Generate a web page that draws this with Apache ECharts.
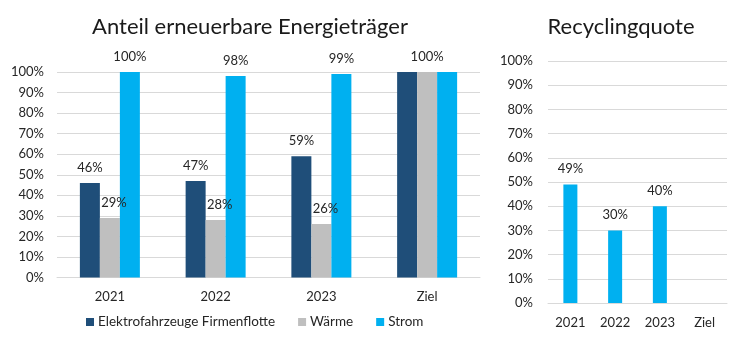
<!DOCTYPE html>
<html>
<head>
<meta charset="utf-8">
<script src="https://cdn.jsdelivr.net/npm/echarts@6/dist/echarts.min.js"></script>
<style>
  html, body { margin: 0; padding: 0; background: #ffffff; }
  #chart { width: 736px; height: 341px; }
</style>
</head>
<body>
<div id="chart"></div>
<script>
// Anteil erneuerbare Energieträger (links)
const energyCategories = ['2021', '2022', '2023', 'Ziel'];
const elektroValues = [46, 47, 59, 100];
const waermeValues = [29, 28, 26, 100];
const stromValues = [100, 98, 99, 100];
// Nur diese Balken tragen eine Wertbeschriftung
const elektroLabelShown = [true, true, true, false];
const waermeLabelShown = [true, true, true, true];
const stromLabelShown = [true, true, true, false];

// Recyclingquote (rechts)
const recyclingCategories = ['2021', '2022', '2023', 'Ziel'];
const recyclingValues = [49, 30, 40, null];

const seriesNames = ['Elektrofahrzeuge Firmenflotte', 'Wärme', 'Strom'];
const percentTicks = [0, 10, 20, 30, 40, 50, 60, 70, 80, 90, 100];

const FONT = 'Lato';
const TEXT = '#262626';
const COLORS = { elektro: '#1F4E79', waerme: '#BFBFBF', strom: '#00B0F0' };

function labelledData(values, shown, dx) {
  return values.map((v, i) => ({
    value: v,
    label: { show: shown[i], offset: [dx, 0] }
  }));
}

const barLabel = {
  show: true,
  position: 'top',
  distance: 9,
  color: TEXT,
  fontFamily: FONT,
  fontSize: 13,
  formatter: p => p.value + '%'
};

const yAxisCommon = {
  type: 'value',
  min: 0,
  max: 100,
  interval: 10,
  axisLine: { show: false },
  axisTick: { show: false },
  splitLine: { lineStyle: { color: '#D9D9D9', width: 1 } },
  axisLabel: {
    color: TEXT,
    fontFamily: FONT,
    fontSize: 13,
    formatter: v => (percentTicks.includes(v) ? v + '%' : '')
  }
};

const xAxisCommon = {
  type: 'category',
  axisLine: { lineStyle: { color: '#D9D9D9' } },
  axisTick: { show: false },
  axisLabel: { color: TEXT, fontFamily: FONT, fontSize: 13, margin: 13 }
};

const chart = echarts.init(document.getElementById('chart'), null, { renderer: 'canvas' });

chart.setOption({
  animation: false,
  backgroundColor: '#ffffff',
  title: [
    {
      text: 'Anteil erneuerbare Energieträger',
      left: 250, top: 16, textAlign: 'center', padding: 0,
      textStyle: { fontFamily: FONT, fontSize: 22, fontWeight: 'normal', color: '#1a1a1a' }
    },
    {
      text: 'Recyclingquote',
      left: 621, top: 16, textAlign: 'center', padding: 0,
      textStyle: { fontFamily: FONT, fontSize: 22, fontWeight: 'normal', color: '#1a1a1a' }
    }
  ],
  legend: {
    data: seriesNames,
    left: 81, top: 310,
    itemWidth: 8, itemHeight: 8, itemGap: 23,
    icon: 'rect',
    textStyle: { color: TEXT, fontFamily: FONT, fontSize: 13.5, padding: [0, 0, 0, -1] }
  },
  grid: [
    { left: 57, right: 256, top: 72, bottom: 63.5 },
    { left: 548, right: 9, top: 61, bottom: 38 }
  ],
  xAxis: [
    Object.assign({ gridIndex: 0, data: energyCategories }, xAxisCommon),
    Object.assign({ gridIndex: 1, data: recyclingCategories }, xAxisCommon)
  ],
  yAxis: [
    Object.assign({ gridIndex: 0 }, yAxisCommon, { axisLabel: Object.assign({}, yAxisCommon.axisLabel, { margin: 13 }) }),
    Object.assign({ gridIndex: 1 }, yAxisCommon, { axisLabel: Object.assign({}, yAxisCommon.axisLabel, { margin: 15 }) })
  ],
  series: [
    {
      name: seriesNames[0], type: 'bar', xAxisIndex: 0, yAxisIndex: 0,
      barWidth: 20, barGap: '0%',
      itemStyle: { color: COLORS.elektro },
      label: barLabel,
      data: labelledData(elektroValues, elektroLabelShown, 0)
    },
    {
      name: seriesNames[1], type: 'bar', xAxisIndex: 0, yAxisIndex: 0,
      barWidth: 20, barGap: '0%',
      itemStyle: { color: COLORS.waerme },
      label: barLabel,
      data: labelledData(waermeValues, waermeLabelShown, 4).map((d, i) =>
        i === 3 ? Object.assign(d, { label: { show: true, offset: [0, 0] } }) : d)
    },
    {
      name: seriesNames[2], type: 'bar', xAxisIndex: 0, yAxisIndex: 0,
      barWidth: 20, barGap: '0%',
      itemStyle: { color: COLORS.strom },
      label: barLabel,
      data: labelledData(stromValues, stromLabelShown, 0)
    },
    {
      name: 'Recyclingquote', type: 'bar', xAxisIndex: 1, yAxisIndex: 1,
      barWidth: 14,
      itemStyle: { color: COLORS.strom },
      label: barLabel,
      data: recyclingValues
    }
  ]
});
</script>
</body>
</html>
